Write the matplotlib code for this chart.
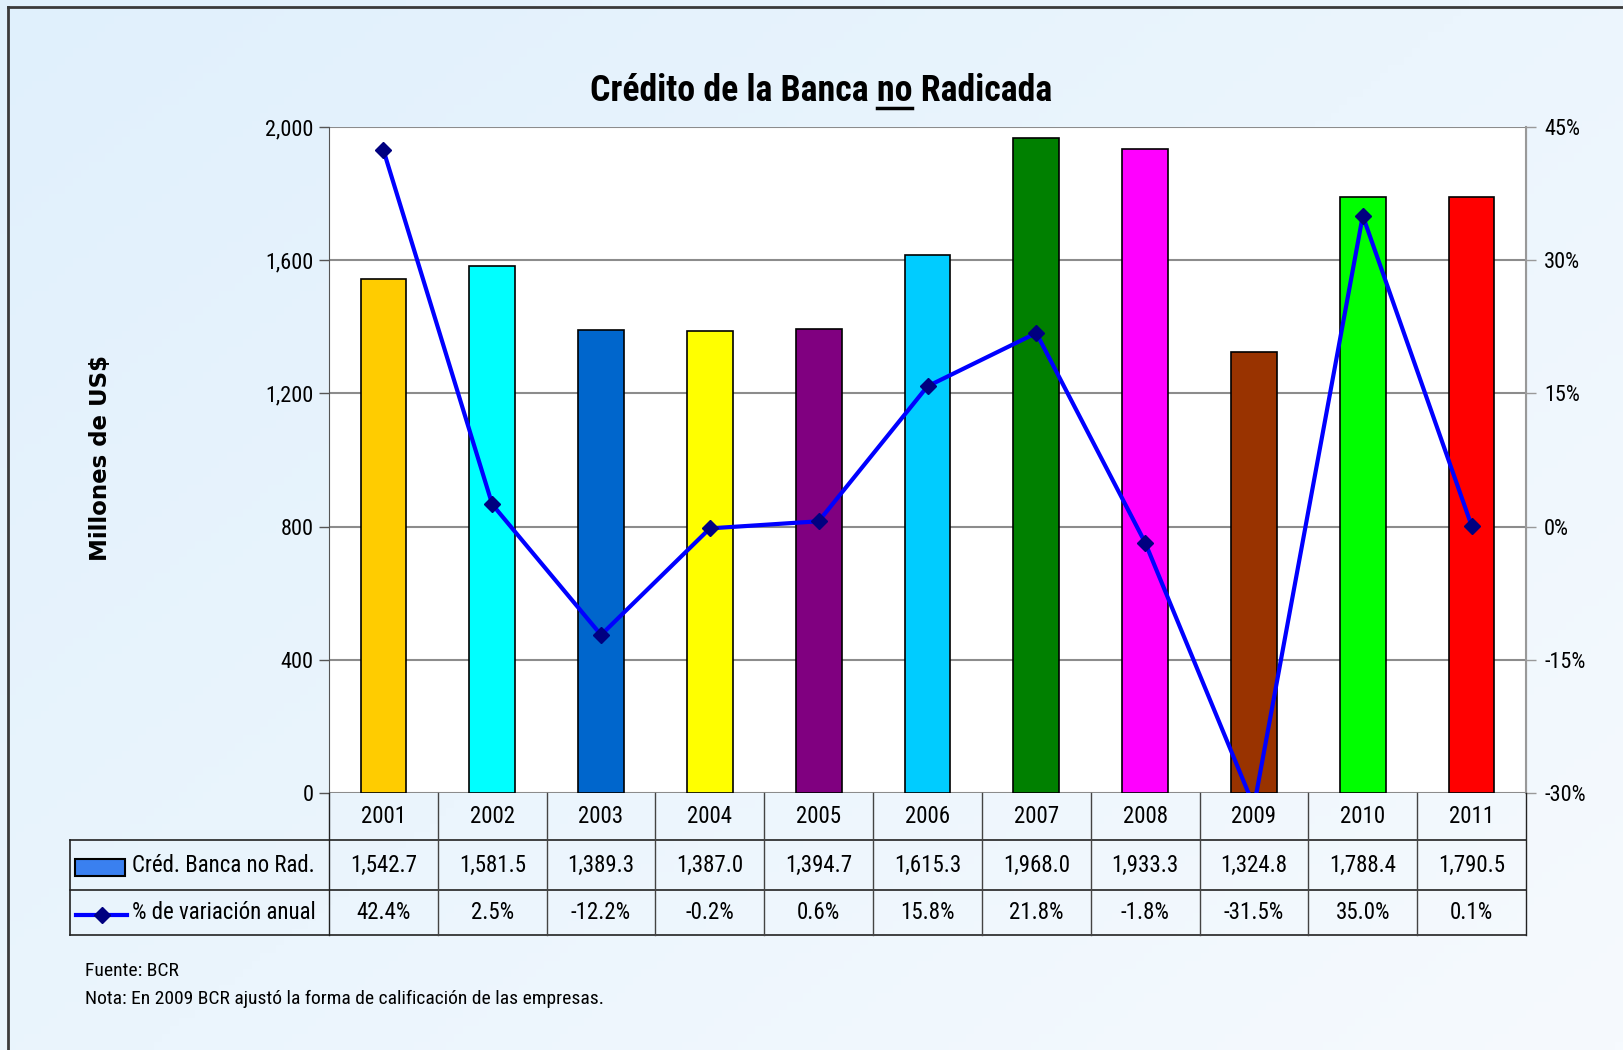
import numpy as np
import matplotlib
matplotlib.use("Agg")
import matplotlib.pyplot as plt
from matplotlib import font_manager as fm
from matplotlib.patches import Rectangle
from matplotlib.lines import Line2D
from matplotlib.transforms import blended_transform_factory
from matplotlib.ticker import FuncFormatter, MultipleLocator

years = ["2001", "2002", "2003", "2004", "2005", "2006", "2007", "2008", "2009", "2010", "2011"]
credito = [1542.7, 1581.5, 1389.3, 1387.0, 1394.7, 1615.3, 1968.0, 1933.3, 1324.8, 1788.4, 1790.5]
variacion = [42.4, 2.5, -12.2, -0.2, 0.6, 15.8, 21.8, -1.8, -31.5, 35.0, 0.1]
bar_colors = ["#FFCC00", "#00FFFF", "#0066CC", "#FFFF00", "#800080", "#00CCFF",
              "#008000", "#FF00FF", "#993300", "#00FF00", "#FF0000"]
serie_barras = "Créd. Banca no Rad."
serie_linea = "% de variación anual"
titulo = "Crédito de la Banca no Radicada"
notas = ["Fuente: BCR", "Nota: En 2009 BCR ajustó la forma de calificación de las empresas."]

# pick a narrow sans font (the original uses Arial Narrow)
_names = {f.name for f in fm.fontManager.ttflist}
_cands = ["Liberation Sans Narrow", "Arial Narrow", "Nimbus Sans Narrow", "Roboto Condensed",
          "Archivo Narrow", "PT Sans Narrow", "Open Sans Condensed", "Fira Sans Condensed",
          "IBM Plex Sans Condensed", "Ubuntu Condensed"]
_pick = next((n for n in _cands if n in _names), None)
STRETCH = "normal"
if _pick is None:
    if any(f.name == "DejaVu Sans" and f.stretch in ("condensed", "semi-condensed")
           for f in fm.fontManager.ttflist):
        _pick, STRETCH = "DejaVu Sans", "condensed"
    else:
        _pick = "Liberation Sans"
NARROW = [_pick, "DejaVu Sans"]
FK = dict(family=NARROW, stretch=STRETCH)

W, H = 1623, 1050
fig = plt.figure(figsize=(W / 100, H / 100), dpi=100)

# background gradient
bg = fig.add_axes([0, 0, 1, 1], zorder=-10)
gx, gy = np.meshgrid(np.linspace(0, 1, 200), np.linspace(0, 1, 130))
t = np.clip(0.55 * gx + 0.45 * gy, 0, 1)
c0 = np.array([224, 240, 252]) / 255
c1 = np.array([246, 250, 254]) / 255
img = c0[None, None, :] * (1 - t[..., None]) + c1[None, None, :] * t[..., None]
bg.imshow(img, aspect="auto", extent=[0, 1, 0, 1], origin="upper")
bg.axis("off")

# outer frame lines
fig.add_artist(Line2D([8 / W, 1], [1 - 7 / H, 1 - 7 / H], color="#3a3a3a", lw=2))
fig.add_artist(Line2D([8 / W, 8 / W], [0, 1 - 7 / H], color="#3a3a3a", lw=2))

L, R, T, B = 329, 1526, 127, 793
ax = fig.add_axes([L / W, 1 - B / H, (R - L) / W, (B - T) / H])
ax.set_facecolor("white")
x = np.arange(len(years))
ax.bar(x, credito, width=0.42, color=bar_colors, edgecolor="black", linewidth=1.2, zorder=3)
ax.set_xlim(-0.5, len(years) - 0.5)
ax.set_ylim(0, 2000)
ax.yaxis.set_major_locator(MultipleLocator(400))
ax.yaxis.set_major_formatter(FuncFormatter(lambda v, p: f"{v:,.0f}"))
ax.grid(axis="y", color="#8c8c8c", lw=1.5, zorder=1)
ax.set_xticks([])
for s in ["top", "bottom"]:
    ax.spines[s].set_visible(False)
ax.spines["left"].set_color("#555555")
ax.spines["right"].set_color("#999999")
ax.tick_params(axis="y", length=7, width=1, color="#555555", pad=4, labelsize=16)
for lab in ax.get_yticklabels():
    lab.set_family(NARROW)
    lab.set_stretch(STRETCH)

ax2 = ax.twinx()
ax2.plot(x, np.array(variacion) / 100, color="#0000FF", lw=3, marker="D", ms=8,
         mfc="#000080", mec="#000080", zorder=4)
ax2.set_ylim(-0.30, 0.45)
ax2.yaxis.set_major_locator(MultipleLocator(0.15))
ax2.yaxis.set_major_formatter(FuncFormatter(lambda v, p: f"{v * 100:.0f}%"))
for s in ["top", "bottom", "left"]:
    ax2.spines[s].set_visible(False)
ax2.spines["right"].set_color("#999999")
ax2.spines["right"].set_linewidth(1.5)
ax2.tick_params(axis="y", length=7, width=1, color="#999999", pad=6, labelsize=16)
for lab in ax2.get_yticklabels():
    lab.set_family(NARROW)
    lab.set_stretch(STRETCH)

ax.set_ylabel("Millones de US$", fontsize=16.5, fontweight="bold", labelpad=0)
ax.yaxis.set_label_coords((112 - L) / (R - L), 1 - (458 - T) / (B - T))

# data table below the plot
tr = blended_transform_factory(ax.transData, fig.transFigure)
fy = lambda py: 1 - py / H
y0, y1, y2, y3 = 793, 840, 890, 935
xl = -0.5 + (70 - L) / ((R - L) / len(years))
xe = len(years) - 0.5
dark = "#222222"
for yy in (y1, y2, y3):
    fig.add_artist(Line2D([xl, xe], [fy(yy), fy(yy)], transform=tr, color=dark, lw=1.2))
fig.add_artist(Line2D([xl, xl], [fy(y1), fy(y3)], transform=tr, color=dark, lw=1.2))
for i in range(len(years) + 1):
    b = i - 0.5
    fig.add_artist(Line2D([b, b], [fy(y0), fy(y3)], transform=tr,
                          color=dark if i in (0, len(years)) else "#444444", lw=1.0))
for i, yr in enumerate(years):
    fig.text(i, fy((y0 + y1) / 2), yr, transform=tr, ha="center", va="center",
             fontsize=16.5, **FK)
    fig.text(i, fy((y1 + y2) / 2), f"{credito[i]:,.1f}", transform=tr, ha="center",
             va="center", fontsize=16.5, **FK)
    fig.text(i, fy((y2 + y3) / 2), f"{variacion[i]:.1f}%", transform=tr, ha="center",
             va="center", fontsize=16.5, **FK)

# legend keys in table
fig.add_artist(Rectangle((75 / W, fy(876)), 50 / W, 17 / H, facecolor="#3a80f0",
                         edgecolor="black", lw=1.5))
fig.add_artist(Line2D([76 / W, 127 / W], [fy(915), fy(915)], color="#0000FF", lw=3))
fig.add_artist(Line2D([101.5 / W], [fy(915)], marker="D", ms=8, mfc="#000080",
                      mec="#000080", lw=0))
fig.text(132 / W, fy((y1 + y2) / 2), serie_barras, ha="left", va="center",
         fontsize=16.5, **FK)
fig.text(132 / W, fy((y2 + y3) / 2), serie_linea, ha="left", va="center",
         fontsize=16.5, **FK)

# title with underlined "no"
TK = dict(fontsize=25.8, fontweight="bold", **FK)
tt = fig.text(821 / W, fy(91), titulo, ha="center", va="center", **TK)
rend = fig.canvas.get_renderer()
bb = tt.get_window_extent(rend)
def _w(s):
    tmp = fig.text(0, 0, s, **TK)
    w = tmp.get_window_extent(rend).width
    tmp.remove()
    return w
w2 = _w("Crédito de la Banca no")
wn = _w("no")
ux0 = bb.x0 + w2 - wn
ux1 = bb.x0 + w2
uy = bb.y0 + 1
fig.add_artist(Line2D([ux0 / W, ux1 / W], [uy / H, uy / H], color="black", lw=2.5))

fig.text(85 / W, fy(971), notas[0], ha="left", va="center", fontsize=14, **FK)
fig.text(85 / W, fy(999), notas[1], ha="left", va="center", fontsize=14, **FK)

fig.savefig("out.png", dpi=100)
